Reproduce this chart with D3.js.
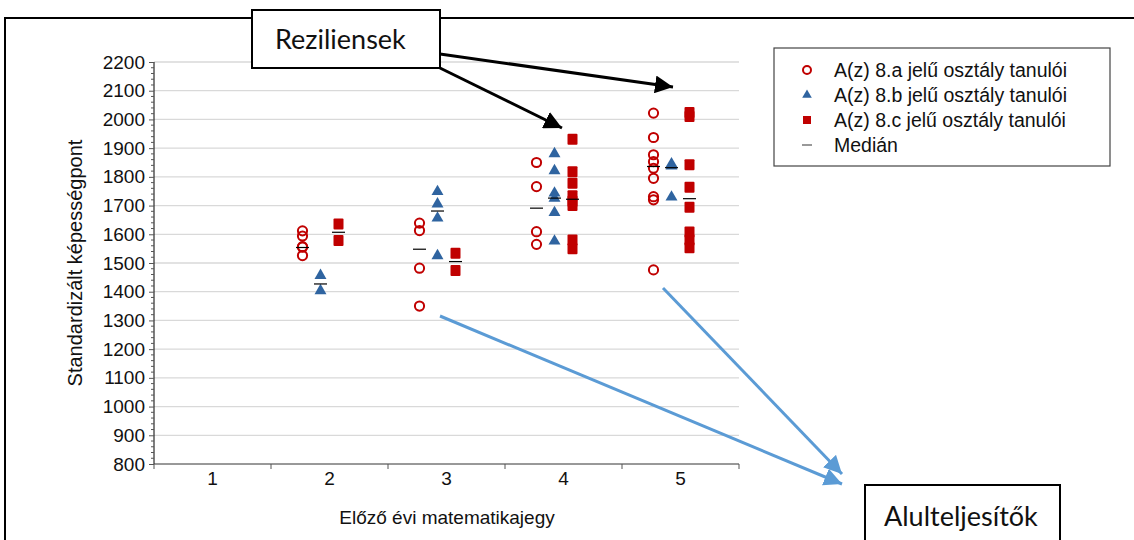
<!DOCTYPE html>
<html>
<head>
<meta charset="utf-8">
<script src="https://cdn.jsdelivr.net/npm/d3@7"></script>
<style>
  body { margin: 0; background: #fff; }
  svg { display: block; font-family: "Liberation Sans", Arial, sans-serif; }
</style>
</head>
<body>
<script>
const grades = ["1", "2", "3", "4", "5"];
const yTicks = [800, 900, 1000, 1100, 1200, 1300, 1400, 1500, 1600, 1700, 1800, 1900, 2000, 2100, 2200];

// [jegy, pontszám]
const classA = [
  ["2", 1612], ["2", 1594], ["2", 1557], ["2", 1555], ["2", 1526],
  ["3", 1639], ["3", 1613], ["3", 1482], ["3", 1350],
  ["4", 1850], ["4", 1766], ["4", 1609], ["4", 1565],
  ["5", 2022], ["5", 1937], ["5", 1877], ["5", 1853], ["5", 1830], ["5", 1795], ["5", 1731], ["5", 1720], ["5", 1476]
];
const classB = [
  ["2", 1453], ["2", 1400],
  ["3", 1745], ["3", 1702], ["3", 1653], ["3", 1522],
  ["4", 1877], ["4", 1818], ["4", 1740], ["4", 1722], ["4", 1672], ["4", 1573],
  ["5", 1842], ["5", 1834], ["5", 1726]
];
const classC = [
  ["2", 1636], ["2", 1578],
  ["3", 1534], ["3", 1474],
  ["4", 1931], ["4", 1818], ["4", 1778], ["4", 1734], ["4", 1715], ["4", 1700], ["4", 1580], ["4", 1550],
  ["5", 2024], ["5", 2010], ["5", 1842], ["5", 1764], ["5", 1694], ["5", 1608], ["5", 1580], ["5", 1553]
];
const mediansA = [["2", 1554], ["3", 1548], ["4", 1691], ["5", 1836]];
const mediansB = [["2", 1427], ["3", 1681], ["4", 1726], ["5", 1832]];
const mediansC = [["2", 1607], ["3", 1505], ["4", 1722], ["5", 1724]];

const legendLabels = [
  "A(z) 8.a jelű osztály tanulói",
  "A(z) 8.b jelű osztály tanulói",
  "A(z) 8.c jelű osztály tanulói",
  "Medián"
];

const red = "#c00000";
const blue = "#2f64a0";
const fs = 19;

const svg = d3.select("body").append("svg")
  .attr("width", 1134)
  .attr("height", 540);

// outer frame
svg.append("rect")
  .attr("x", 5).attr("y", 18)
  .attr("width", 1140).attr("height", 540)
  .attr("fill", "none").attr("stroke", "#000").attr("stroke-width", 2);

const x = d3.scaleBand().domain(grades).range([154, 739]);
const slot = d3.scalePoint().domain(["a", "b", "c"]).range([-27, 9]);
const y = d3.scaleLinear().domain([800, 2200]).range([464, 62]);

const cx = (g, s) => x(g) + x.bandwidth() / 2 + slot(s);

// gridlines
svg.append("g")
  .selectAll("line")
  .data(yTicks.slice(1))
  .join("line")
  .attr("x1", 154).attr("x2", 739)
  .attr("y1", d => y(d)).attr("y2", d => y(d))
  .attr("stroke", "#d9d9d9").attr("stroke-width", 1.3);

// y axis
const yAxis = svg.append("g")
  .attr("transform", "translate(154,0)")
  .call(d3.axisLeft(y).tickValues(yTicks).tickSize(5).tickPadding(4).tickFormat(d3.format("d")));
yAxis.select(".domain").attr("stroke", "#000").attr("d", "M0,62V464");
yAxis.selectAll(".tick line").attr("stroke", "#555");
yAxis.selectAll("text").attr("font-size", fs).attr("fill", "#111").attr("font-family", "Liberation Sans, Arial, sans-serif");

svg.append("g")
  .attr("transform", "translate(154,0)")
  .selectAll("line")
  .data(d3.range(800, 2201, 20).filter(v => v % 100 != 0))
  .join("line")
  .attr("x1", -3).attr("x2", 0)
  .attr("y1", d => y(d)).attr("y2", d => y(d))
  .attr("stroke", "#555");

// x axis
const xAxis = svg.append("g")
  .attr("transform", "translate(0,464)")
  .call(d3.axisBottom(x).tickSize(0).tickPadding(8));
xAxis.select(".domain").attr("stroke", "#333").attr("d", "M154,0H739");
xAxis.selectAll("text").attr("font-size", fs).attr("fill", "#111").attr("font-family", "Liberation Sans, Arial, sans-serif");

svg.append("g")
  .selectAll("line")
  .data(grades.map(g => x(g)).concat([x.range()[1]]))
  .join("line")
  .attr("x1", d => d).attr("x2", d => d)
  .attr("y1", 464).attr("y2", 469)
  .attr("stroke", "#555");

// axis titles
svg.append("text")
  .attr("x", 447).attr("y", 524)
  .attr("text-anchor", "middle").attr("font-size", fs).attr("fill", "#111")
  .text("Előző évi matematikajegy");

svg.append("text")
  .attr("transform", "translate(82,263) rotate(-90)")
  .attr("text-anchor", "middle").attr("font-size", 20).attr("fill", "#111")
  .text("Standardizált képességpont");

// points
const tri = d3.symbol().type(d3.symbolTriangle).size(62);

svg.append("g")
  .selectAll("circle")
  .data(classA)
  .join("circle")
  .attr("cx", d => cx(d[0], "a"))
  .attr("cy", d => y(d[1]))
  .attr("r", 4.6)
  .attr("fill", "none").attr("stroke", red).attr("stroke-width", 2);

svg.append("g")
  .selectAll("path")
  .data(classB)
  .join("path")
  .attr("d", tri)
  .attr("transform", d => `translate(${cx(d[0], "b")},${y(d[1]) - 1})`)
  .attr("fill", blue);

svg.append("g")
  .selectAll("rect")
  .data(classC)
  .join("rect")
  .attr("x", d => cx(d[0], "c") - 5)
  .attr("y", d => y(d[1]) - 5.5)
  .attr("width", 10).attr("height", 11)
  .attr("rx", 1)
  .attr("fill", red);

// medians
[[mediansA, "a"], [mediansB, "b"], [mediansC, "c"]].forEach(([m, s]) => {
  svg.append("g")
    .selectAll("line")
    .data(m)
    .join("line")
    .attr("x1", d => cx(d[0], s) - 6.5).attr("x2", d => cx(d[0], s) + 6.5)
    .attr("y1", d => y(d[1])).attr("y2", d => y(d[1]))
    .attr("stroke", "#000").attr("stroke-width", 1.2);
});

// legend
const legend = svg.append("g").attr("transform", "translate(774,48)");
legend.append("rect")
  .attr("width", 336).attr("height", 118)
  .attr("fill", "#fff").attr("stroke", "#444").attr("stroke-width", 1.2);

const rowY = d3.scalePoint().domain(legendLabels).range([22, 97]);

legend.append("circle")
  .attr("cx", 33).attr("cy", rowY(legendLabels[0]))
  .attr("r", 4).attr("fill", "none").attr("stroke", red).attr("stroke-width", 2);
legend.append("path")
  .attr("d", d3.symbol().type(d3.symbolTriangle).size(40))
  .attr("transform", `translate(33,${rowY(legendLabels[1])})`)
  .attr("fill", blue);
legend.append("rect")
  .attr("x", 29).attr("y", rowY(legendLabels[2]) - 4)
  .attr("width", 8).attr("height", 8).attr("fill", red);
legend.append("line")
  .attr("x1", 28).attr("x2", 38)
  .attr("y1", rowY(legendLabels[3])).attr("y2", rowY(legendLabels[3]))
  .attr("stroke", "#777").attr("stroke-width", 1.5);

legend.selectAll("text")
  .data(legendLabels)
  .join("text")
  .attr("x", 60)
  .attr("y", d => rowY(d))
  .attr("dy", "0.35em")
  .attr("font-size", 19.5).attr("fill", "#111")
  .text(d => d);

// annotation arrows
const defs = svg.append("defs");
[["arrBlack", "#000"], ["arrBlue", "#5b9bd5"]].forEach(([id, c]) => {
  defs.append("marker")
    .attr("id", id)
    .attr("viewBox", "0 0 10 10")
    .attr("refX", 10).attr("refY", 5)
    .attr("markerWidth", 6).attr("markerHeight", 6)
    .attr("markerUnits", "strokeWidth")
    .attr("orient", "auto")
    .append("path")
    .attr("d", "M0,0L10,5L0,10Z")
    .attr("fill", c);
});

const blackArrows = [[440, 54, 673, 87], [440, 68, 562, 128]];
const blueArrows = [[440, 316, 842, 484], [663, 288, 842, 474]];

svg.append("g")
  .selectAll("line")
  .data(blackArrows)
  .join("line")
  .attr("x1", d => d[0]).attr("y1", d => d[1])
  .attr("x2", d => d[2]).attr("y2", d => d[3])
  .attr("stroke", "#000").attr("stroke-width", 3)
  .attr("marker-end", "url(#arrBlack)");

svg.append("g")
  .selectAll("line")
  .data(blueArrows)
  .join("line")
  .attr("x1", d => d[0]).attr("y1", d => d[1])
  .attr("x2", d => d[2]).attr("y2", d => d[3])
  .attr("stroke", "#5b9bd5").attr("stroke-width", 3)
  .attr("marker-end", "url(#arrBlue)");

// annotation boxes
const boxes = [
  { x: 252, y: 10, w: 188, h: 58, label: "Reziliensek", tx: 275, ty: 49 },
  { x: 865, y: 485, w: 195, h: 70, label: "Alulteljesítők", tx: 884, ty: 526 }
];
const box = svg.append("g").selectAll("g").data(boxes).join("g");
box.append("rect")
  .attr("x", d => d.x).attr("y", d => d.y)
  .attr("width", d => d.w).attr("height", d => d.h)
  .attr("fill", "#fff").attr("stroke", "#000").attr("stroke-width", 2);
box.append("text")
  .attr("x", d => d.tx).attr("y", d => d.ty)
  .attr("font-family", "Lato, 'Open Sans', sans-serif")
  .attr("font-size", 27).attr("fill", "#111")
  .text(d => d.label);
</script>
</body>
</html>
